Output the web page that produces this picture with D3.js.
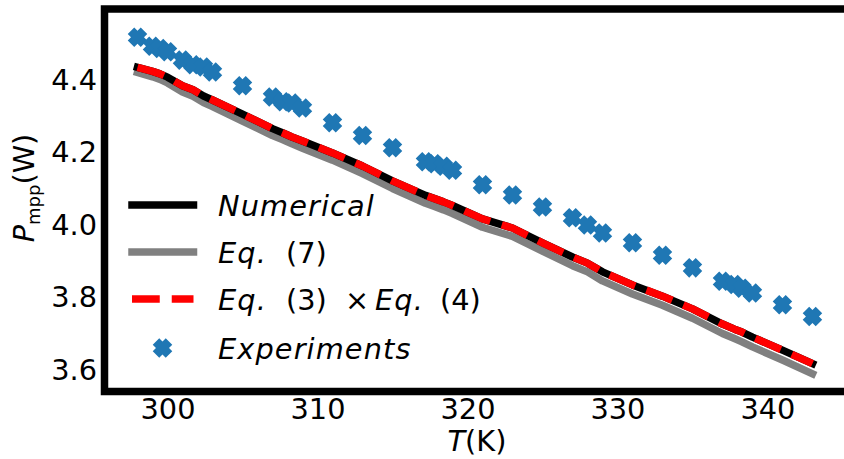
<!DOCTYPE html>
<html>
<head>
<meta charset="utf-8">
<script src="https://cdn.jsdelivr.net/npm/d3@7"></script>
<style>
  body { margin: 0; background: #fff; }
  svg { display: block; font-family: 'DejaVu Sans', sans-serif; }
</style>
</head>
<body>
<svg id="chart" width="844" height="459"></svg>
<script>
'use strict'

// temperatures (K) where everything was evaluated / measured
const temps = [298.0, 299.0, 299.5, 300.0, 301.0, 301.7, 302.4, 303.0, 305.0, 307.0,
  307.7, 308.3, 309.0, 311.0, 313.0, 315.0, 317.2, 317.8, 318.4, 319.0,
  321.0, 323.0, 325.0, 327.0, 328.0, 329.0, 331.0, 333.0, 335.0, 337.0,
  337.8, 338.3, 339.0, 341.0, 343.0];

// P_mpp (W)
const experiments = [4.515, 4.490, 4.484, 4.475, 4.452, 4.439, 4.433, 4.419, 4.381, 4.350,
  4.337, 4.334, 4.320, 4.279, 4.244, 4.210, 4.172, 4.166, 4.159, 4.148,
  4.108, 4.080, 4.047, 4.017, 3.997, 3.975, 3.948, 3.914, 3.879, 3.842,
  3.833, 3.823, 3.810, 3.777, 3.745];

const numerical = [4.432, 4.421, 4.414, 4.405, 4.381, 4.370, 4.353, 4.342, 4.303, 4.263,
  4.251, 4.240, 4.229, 4.196, 4.160, 4.119, 4.079, 4.070, 4.061, 4.051,
  4.014, 3.989, 3.948, 3.909, 3.892, 3.868, 3.832, 3.801, 3.766, 3.724,
  3.710, 3.702, 3.688, 3.652, 3.615];

const eq7 = [4.418, 4.406, 4.399, 4.389, 4.364, 4.352, 4.335, 4.324, 4.284, 4.244,
  4.232, 4.221, 4.209, 4.176, 4.139, 4.098, 4.057, 4.048, 4.039, 4.029,
  3.991, 3.966, 3.925, 3.885, 3.868, 3.843, 3.807, 3.776, 3.740, 3.698,
  3.684, 3.675, 3.661, 3.625, 3.587];

const eq3x4 = [4.432, 4.421, 4.414, 4.405, 4.381, 4.370, 4.353, 4.342, 4.303, 4.263,
  4.251, 4.240, 4.229, 4.196, 4.160, 4.119, 4.079, 4.070, 4.061, 4.051,
  4.014, 3.989, 3.948, 3.909, 3.892, 3.868, 3.832, 3.801, 3.766, 3.724,
  3.710, 3.702, 3.688, 3.652, 3.615];

const xTicks = [300, 310, 320, 330, 340];
const yTicks = [3.6, 3.8, 4.0, 4.2, 4.4];

const fontSize = 28.8;
const lw = 7.5;
const blue = '#1f77b4';
const plot = { left: 104.5, right: 848, top: 9, bottom: 391.5 };

const svg = d3.select('#chart');
svg.append('rect').attr('width', 844).attr('height', 459).attr('fill', '#fff');

const x = d3.scaleLinear().domain([295.8, 345.37]).range([plot.left, plot.right]);
const y = d3.scaleLinear().domain([3.538, 4.593]).range([plot.bottom, plot.top]);

function zip (values) {
  return temps.map((t, i) => [t, values[i]]);
}

const line = d3.line()
  .x(d => x(d[0]))
  .y(d => y(d[1]));

// filled "X" marker (plus rotated by 45 degrees), h = half arm width
function xMarker (h) {
  const pts = [[-1, -2], [-1, -1], [-2, -1], [-2, 1], [-1, 1], [-1, 2],
    [1, 2], [1, 1], [2, 1], [2, -1], [1, -1], [1, -2]];
  const c = Math.SQRT1_2;
  return 'M' + pts.map(p => {
    const px = p[0] * h, py = p[1] * h;
    return [(px - py) * c, (px + py) * c].join(',');
  }).join('L') + 'Z';
}
const markerPath = xMarker(4.6);

// series
svg.append('path')
  .attr('d', line(zip(eq7)))
  .attr('fill', 'none')
  .attr('stroke', '#808080')
  .attr('stroke-width', lw)
  .attr('stroke-linejoin', 'round')
  .attr('stroke-linecap', 'square');

svg.append('path')
  .attr('d', line(zip(numerical)))
  .attr('fill', 'none')
  .attr('stroke', '#000')
  .attr('stroke-width', lw)
  .attr('stroke-linejoin', 'round')
  .attr('stroke-linecap', 'square');

svg.append('path')
  .attr('d', line(zip(eq3x4)))
  .attr('fill', 'none')
  .attr('stroke', '#ff0000')
  .attr('stroke-width', lw)
  .attr('stroke-linejoin', 'round')
  .attr('stroke-linecap', 'butt')
  .attr('stroke-dasharray', '27.75,12');

svg.append('g')
  .selectAll('path')
  .data(zip(experiments))
  .enter().append('path')
    .attr('d', markerPath)
    .attr('transform', d => 'translate(' + x(d[0]) + ',' + y(d[1]) + ')')
    .attr('fill', blue);

// axes
const xAxis = svg.append('g')
  .attr('transform', 'translate(0,' + plot.bottom + ')')
  .call(d3.axisBottom(x).tickValues(xTicks).tickSize(0).tickPadding(7).tickFormat(d3.format('d')));

const yAxis = svg.append('g')
  .attr('transform', 'translate(' + plot.left + ',0)')
  .call(d3.axisLeft(y).tickValues(yTicks).tickSize(0).tickPadding(7.5).tickFormat(d3.format('.1f')));

[xAxis, yAxis].forEach(g => {
  g.attr('font-size', fontSize).attr('font-family', 'DejaVu Sans');
  g.select('.domain').remove();
  g.selectAll('text').attr('fill', '#000');
});
yAxis.selectAll('text').attr('dy', '0.36em');

// frame
svg.append('rect')
  .attr('x', plot.left)
  .attr('y', plot.top)
  .attr('width', plot.right - plot.left)
  .attr('height', plot.bottom - plot.top)
  .attr('fill', 'none')
  .attr('stroke', '#000')
  .attr('stroke-width', lw)
  .attr('stroke-linejoin', 'miter');

// axis labels
const xLabel = svg.append('text')
  .attr('x', 477)
  .attr('y', 451)
  .attr('text-anchor', 'middle')
  .attr('font-size', fontSize);
xLabel.append('tspan').attr('font-style', 'italic').text('T');
xLabel.append('tspan').text('(K)');

const yLabel = svg.append('text')
  .attr('transform', 'translate(34,188) rotate(-90)')
  .attr('text-anchor', 'middle')
  .attr('font-size', fontSize);
yLabel.append('tspan').attr('font-style', 'italic').text('P');
yLabel.append('tspan').attr('font-size', 18).attr('dy', 6).text('mpp');
yLabel.append('tspan').attr('dy', -6).text('(W)');

// legend
const legend = svg.append('g');
const rows = [205, 252, 299, 348];
const handle = [132, 193.5];

function legendLine (row, color, dash) {
  const l = legend.append('line')
    .attr('x1', handle[0]).attr('x2', handle[1])
    .attr('y1', rows[row]).attr('y2', rows[row])
    .attr('stroke', color)
    .attr('stroke-width', lw)
    .attr('stroke-linecap', dash ? 'butt' : 'square');
  if (dash) l.attr('stroke-dasharray', dash);
}
legendLine(0, '#000');
legendLine(1, '#808080');
legendLine(2, '#ff0000', '27.75,12');
legend.append('path')
  .attr('d', markerPath)
  .attr('transform', 'translate(162.5,' + rows[3] + ')')
  .attr('fill', blue);

// label pieces: [row, x, text, italic]
const labelParts = [
  [0, 218, 'Numerical', true],
  [1, 218, 'Eq.', true],
  [1, 286, '(7)', false],
  [2, 218, 'Eq.', true],
  [2, 286, '(3)', false],
  [2, 345, '\u00d7', false],
  [2, 375, 'Eq.', true],
  [2, 440, '(4)', false],
  [3, 218, 'Experiments', true]
];
legend.selectAll('text')
  .data(labelParts)
  .enter().append('text')
    .attr('x', d => d[1])
    .attr('y', d => rows[d[0]] + 11)
    .attr('font-size', fontSize)
    .attr('font-style', d => d[3] ? 'italic' : 'normal')
    .attr('letter-spacing', d => d[3] ? 1.1 : 0)
    .attr('fill', '#000')
    .text(d => d[2]);
</script>
</body>
</html>
